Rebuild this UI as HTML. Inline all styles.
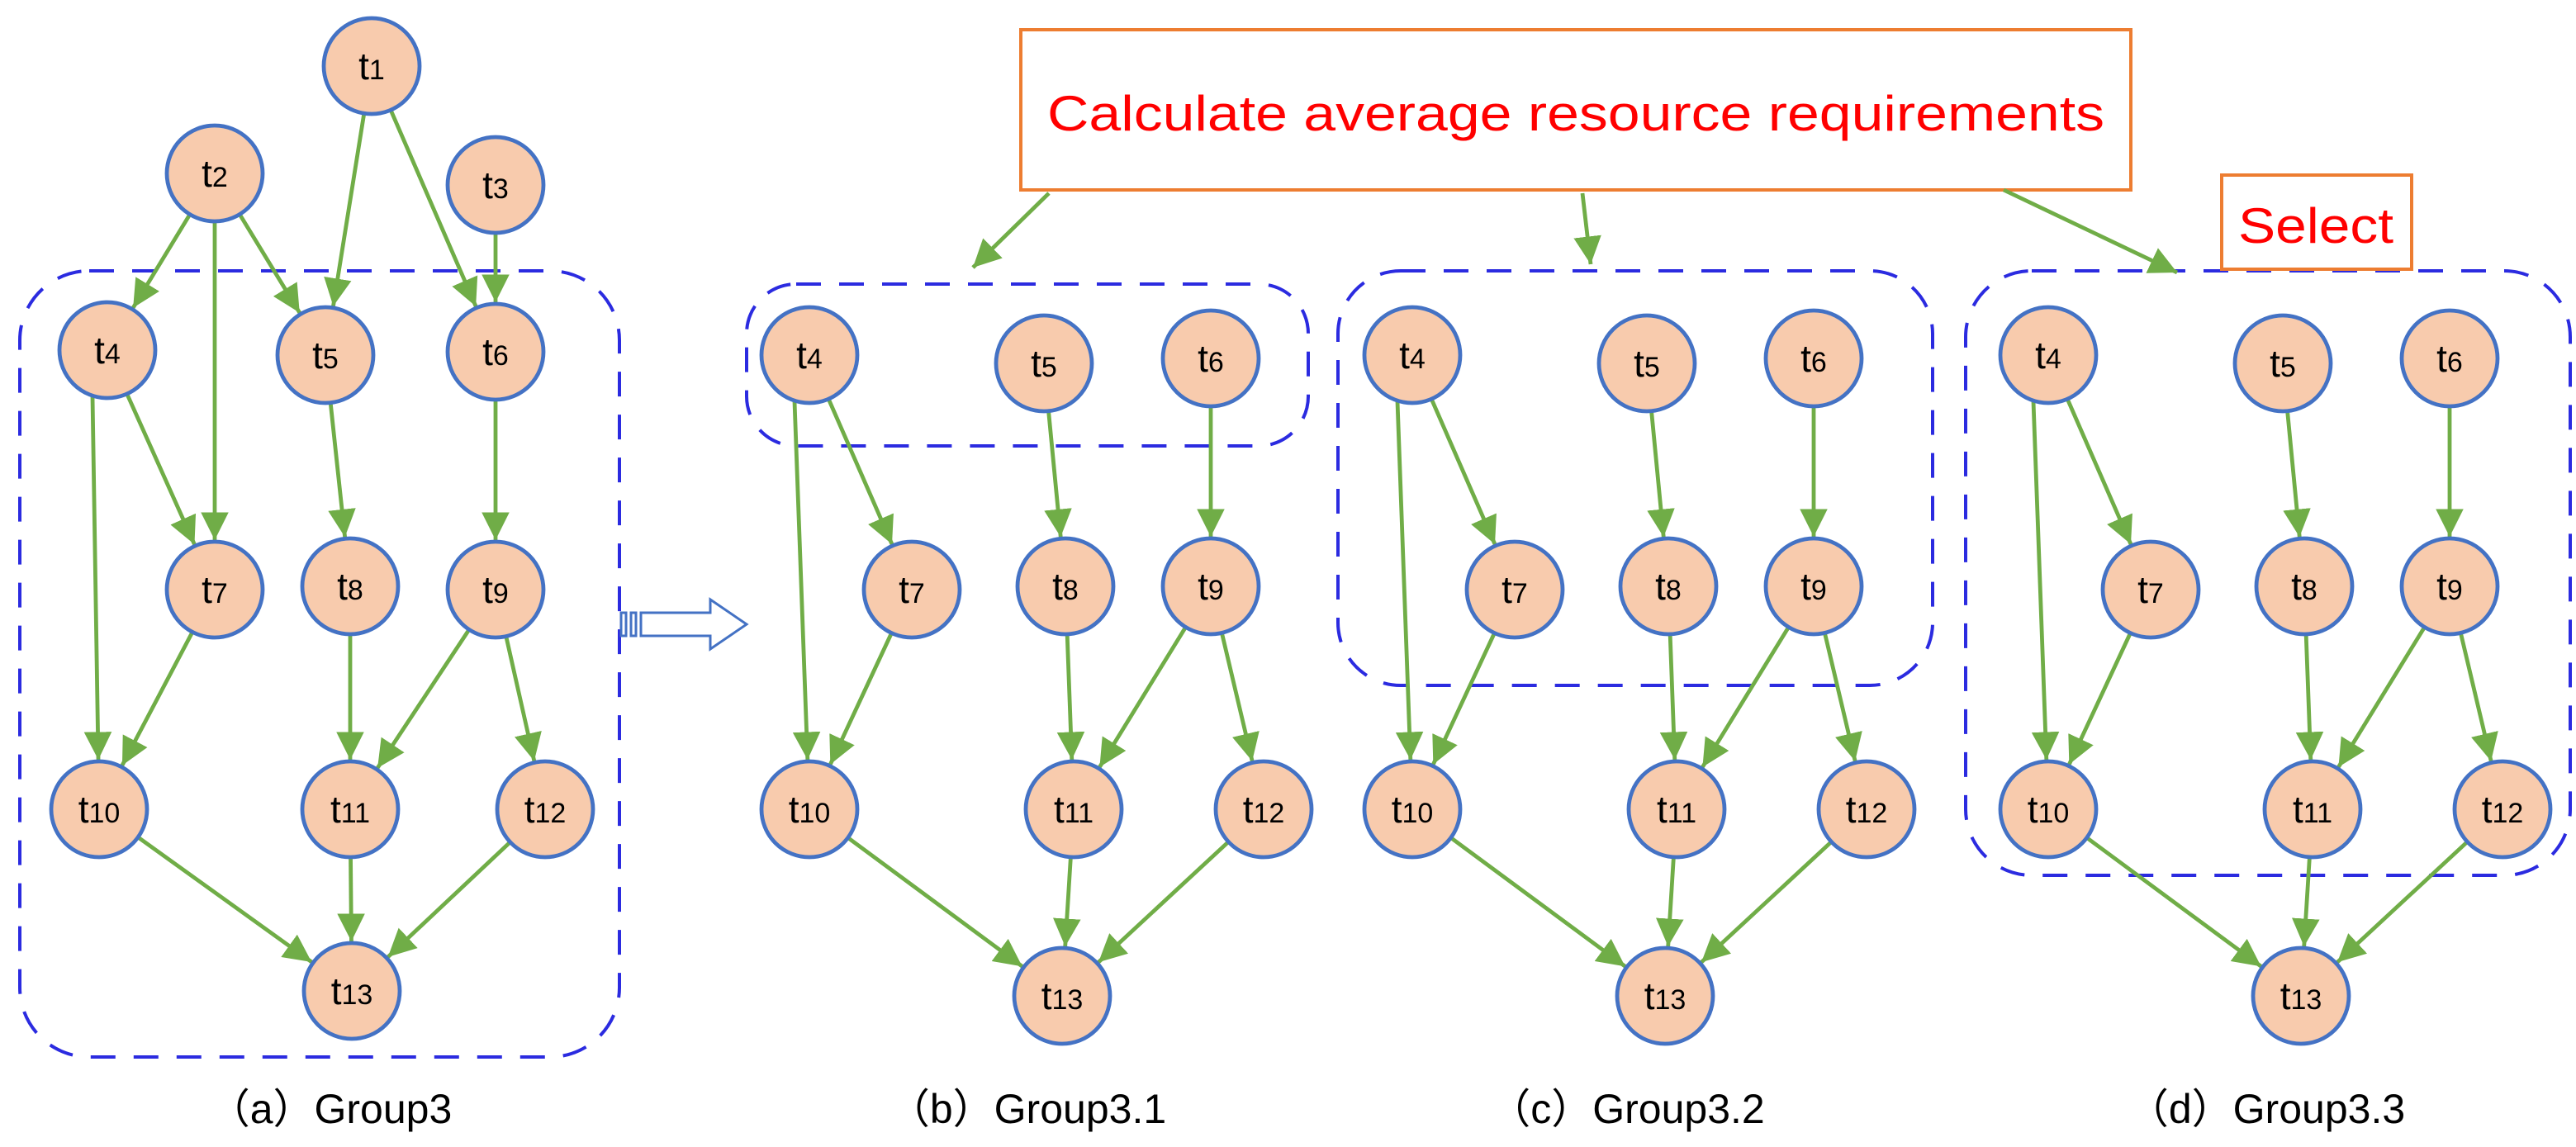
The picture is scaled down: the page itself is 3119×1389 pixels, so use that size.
<!DOCTYPE html>
<html><head><meta charset="utf-8"><style>
html,body{margin:0;padding:0;background:#fff;}
svg{display:block;}
</style></head><body>
<svg id="s" xmlns="http://www.w3.org/2000/svg" width="3119" height="1389" viewBox="0 0 1559.5 694.5" font-family="Liberation Sans, DejaVu Sans, sans-serif">
<defs>
<marker id="ah" viewBox="0 0 10 10" refX="10" refY="5" markerWidth="7" markerHeight="7" orient="auto" markerUnits="strokeWidth">
<path d="M0,0 L10,5 L0,10 z" fill="#70AD47"/>
</marker>
</defs>
<rect x="0" y="0" width="1559.5" height="694.5" fill="#fff"/>
<g fill="none" stroke="#2B2BE0" stroke-width="2" stroke-dasharray="15,11">
<rect x="12" y="164" width="363" height="476" rx="42"/>
<rect x="452" y="172" width="340" height="98" rx="30"/>
<rect x="810" y="164" width="360" height="251" rx="38"/>
<rect x="1190" y="164" width="366" height="366" rx="40"/>
</g>
<g id="edges" stroke="#70AD47" stroke-width="2.4" fill="none"></g>
<g id="nodes"></g>
<rect x="618" y="18" width="672" height="97" fill="#fff" stroke="#ED7D31" stroke-width="2"/>
<text x="954" y="79" font-size="30" fill="#FF0000" text-anchor="middle" textLength="640" lengthAdjust="spacingAndGlyphs">Calculate average resource requirements</text>
<rect x="1345" y="106" width="115" height="57" fill="#fff" stroke="#ED7D31" stroke-width="2"/>
<text x="1402" y="147" font-size="30" fill="#FF0000" text-anchor="middle" textLength="94" lengthAdjust="spacingAndGlyphs">Select</text>
<g stroke="#70AD47" stroke-width="2.4" marker-end="url(#ah)">
<line x1="635" y1="117" x2="589" y2="162"/>
<line x1="958" y1="117" x2="963" y2="160"/>
<line x1="1213" y1="115" x2="1318" y2="165"/>
</g>
<path d="M376,371 h3 v14 h-3 z M382,371 h3 v14 h-3 z M388,371 h42 v-8 l22,15 l-22,15 v-8 h-42 z" fill="#fff" stroke="#4472C4" stroke-width="1.5"/>
<g font-size="25" fill="#000" text-anchor="middle" font-family="Liberation Sans, Noto Sans CJK SC, sans-serif">
<text x="200" y="680">（a）Group3</text>
<text x="622" y="680">（b）Group3.1</text>
<text x="985" y="680">（c）Group3.2</text>
<text x="1372" y="680">（d）Group3.3</text>
</g>
</svg>
<script>
(function(){
var NS="http://www.w3.org/2000/svg";
var E=document.getElementById("edges"),N=document.getElementById("nodes");
var R=29;
var A={1:[225,40],2:[130,105],3:[300,112],4:[65,212],5:[197,215],6:[300,213],7:[130,357],8:[212,355],9:[300,357],10:[60,490],11:[212,490],12:[330,490],13:[213,600]};
var B={4:[65,215],5:[207,220],6:[308,217],7:[127,357],8:[220,355],9:[308,355],10:[65,490],11:[225,490],12:[340,490],13:[218,603]};
var edgesA=[[1,5],[1,6],[2,4],[2,7],[2,5],[3,6],[4,10],[4,7],[5,8],[6,9],[7,10],[8,11],[9,11],[9,12],[10,13],[11,13],[12,13]];
var edgesB=[[4,10],[4,7],[5,8],[6,9],[7,10],[8,11],[9,11],[9,12],[10,13],[11,13],[12,13]];
function draw(P,edges,dx){
 edges.forEach(function(e){
  var a=P[e[0]],b=P[e[1]];
  var ax=a[0]+dx,ay=a[1],bx=b[0]+dx,by=b[1];
  var sx=ax,sy=ay;
  if(e[0]==4&&e[1]==10){sx=ax-9;sy=ay+28;}
  var vx=bx-sx,vy=by-sy,L=Math.sqrt(vx*vx+vy*vy);
  var ux=vx/L,uy=vy/L;
  var l=document.createElementNS(NS,"line");
  if(!(e[0]==4&&e[1]==10)){sx=ax+ux*R;sy=ay+uy*R;}
  l.setAttribute("x1",sx);l.setAttribute("y1",sy);
  l.setAttribute("x2",bx-ux*(R+1));l.setAttribute("y2",by-uy*(R+1));
  l.setAttribute("marker-end","url(#ah)");
  E.appendChild(l);
 });
 for(var k in P){
  var c=document.createElementNS(NS,"circle");
  c.setAttribute("cx",P[k][0]+dx);c.setAttribute("cy",P[k][1]);c.setAttribute("r",R);
  c.setAttribute("fill","#F8CBAD");c.setAttribute("stroke","#4472C4");c.setAttribute("stroke-width","2.4");
  N.appendChild(c);
  var t=document.createElementNS(NS,"text");
  t.setAttribute("x",P[k][0]+dx);t.setAttribute("y",P[k][1]+8);
  t.setAttribute("text-anchor","middle");t.setAttribute("font-size","23");t.setAttribute("fill","#000");
  var s1=document.createElementNS(NS,"tspan");s1.textContent="t";t.appendChild(s1);
  var s2=document.createElementNS(NS,"tspan");s2.setAttribute("font-size","17");s2.textContent=k;t.appendChild(s2);
  N.appendChild(t);
 }
}
draw(A,edgesA,0);
draw(B,edgesB,425);
draw(B,edgesB,790);
draw(B,edgesB,1175);
})();
</script>
</body></html>
